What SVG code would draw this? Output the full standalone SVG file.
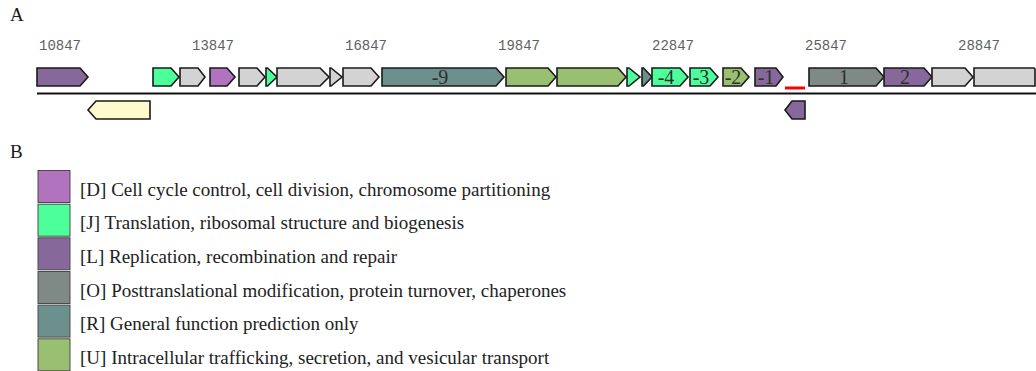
<svg xmlns="http://www.w3.org/2000/svg" width="1036" height="371" viewBox="0 0 1036 371">
<style>
.panel{font-family:"Liberation Serif","Times New Roman",serif;font-size:19px;fill:#1a1a1a}
.tick{font-family:"Liberation Mono","Courier New",monospace;font-size:14px;fill:#5f5f5f}
.g{stroke:#1a1a1a;stroke-width:1.6;stroke-linejoin:miter}
.lbl{font-family:"Liberation Serif","Times New Roman",serif;font-size:20px;fill:#2e2e2e;text-anchor:middle}
.leg{font-family:"Liberation Serif","Times New Roman",serif;font-size:19px;fill:#222}
.sw{stroke:#4a4a4a;stroke-width:1}
.D{fill:#b173bd}.J{fill:#4dff9b}.L{fill:#87689a}.O{fill:#7f8a86}.R{fill:#6c908e}.U{fill:#99c071}.N{fill:#d3d3d3}.Y{fill:#fffacd}
</style>
<rect width="1036" height="371" fill="#ffffff"/>
<text class="panel" x="10" y="21">A</text>
<text class="panel" x="10" y="158">B</text>
<g id="ticks">
<text class="tick" x="39" y="50">10847</text>
<text class="tick" x="192" y="50">13847</text>
<text class="tick" x="345" y="50">16847</text>
<text class="tick" x="498" y="50">19847</text>
<text class="tick" x="652" y="50">22847</text>
<text class="tick" x="805" y="50">25847</text>
<text class="tick" x="958" y="50">28847</text>
</g>
<g id="connectors">
<line x1="37" y1="93.5" x2="1036" y2="93.5" stroke="#111" stroke-width="2"/>
<line x1="785" y1="88" x2="805" y2="88" stroke="#ff0000" stroke-width="3"/>
</g>
<g id="gene1"><polygon class="g L" points="37,68 80,68 88,77 80,86 37,86"/></g>
<g id="gene2"><polygon class="g J" points="153,68 171,68 179,77 171,86 153,86"/></g>
<g id="gene3"><polygon class="g N" points="180,68 198,68 205,77 198,86 180,86"/></g>
<g id="gene4"><polygon class="g D" points="210,68 227,68 235,77 227,86 210,86"/></g>
<g id="gene5"><polygon class="g N" points="239,68 257,68 265,77 257,86 239,86"/></g>
<g id="gene6"><polygon class="g J" points="266,68 267.5,68 277,77 267.5,86 266,86"/></g>
<g id="gene7"><polygon class="g N" points="277,68 320,68 329,77 320,86 277,86"/></g>
<g id="gene8"><polygon class="g N" points="330,68 331,68 342,77 331,86 330,86"/></g>
<g id="gene9"><polygon class="g N" points="343,68 371,68 379,77 371,86 343,86"/></g>
<g id="gene10"><polygon class="g R" points="382,68 496,68 504,77 496,86 382,86"/><text class="lbl" x="440" y="84">-9</text></g>
<g id="gene11"><polygon class="g U" points="506,68 548,68 556,77 548,86 506,86"/></g>
<g id="gene12"><polygon class="g U" points="557,68 618,68 626,77 618,86 557,86"/></g>
<g id="gene13"><polygon class="g J" points="627,68 629,68 640,77 629,86 627,86"/></g>
<g id="gene14"><polygon class="g R" points="642,68 643.5,68 652,77 643.5,86 642,86"/></g>
<g id="gene15"><polygon class="g J" points="652,68 680,68 688,77 680,86 652,86"/><text class="lbl" x="666" y="84">-4</text></g>
<g id="gene16"><polygon class="g J" points="690,68 710,68 718,77 710,86 690,86"/><text class="lbl" x="701" y="84">-3</text></g>
<g id="gene17"><polygon class="g U" points="723,68 741,68 749,77 741,86 723,86"/><text class="lbl" x="733" y="84">-2</text></g>
<g id="gene18"><polygon class="g L" points="755,68 776,68 783,77 776,86 755,86"/><text class="lbl" x="766" y="84">-1</text></g>
<g id="gene19"><polygon class="g O" points="809,68 876,68 884,77 876,86 809,86"/><text class="lbl" x="844" y="84">1</text></g>
<g id="gene20"><polygon class="g L" points="884,68 924,68 932,77 924,86 884,86"/><text class="lbl" x="905" y="84">2</text></g>
<g id="gene21"><polygon class="g N" points="932,68 965,68 973,77 965,86 932,86"/></g>
<g id="gene22"><polygon class="g N" points="974,68 1034,68 1035,69 1035,86 974,86"/></g>
<g id="geneR1"><polygon class="g Y" points="150,101 96,101 88,110 96,119 150,119"/></g>
<g id="geneR2"><polygon class="g L" points="805,101 792,101 785,110 792,119 805,119"/></g>
<g id="legend">
<rect class="sw D" x="38" y="170.5" width="32" height="32"/>
<text class="leg" x="80" y="195.5">[D] Cell cycle control, cell division, chromosome partitioning</text>
<rect class="sw J" x="38" y="204.2" width="32" height="32"/>
<text class="leg" x="80" y="229.2">[J] Translation, ribosomal structure and biogenesis</text>
<rect class="sw L" x="38" y="237.8" width="32" height="32"/>
<text class="leg" x="80" y="262.8">[L] Replication, recombination and repair</text>
<rect class="sw O" x="38" y="271.5" width="32" height="32"/>
<text class="leg" x="80" y="296.5">[O] Posttranslational modification, protein turnover, chaperones</text>
<rect class="sw R" x="38" y="305.1" width="32" height="32"/>
<text class="leg" x="80" y="330.1">[R] General function prediction only</text>
<rect class="sw U" x="38" y="338.8" width="32" height="32"/>
<text class="leg" x="80" y="363.8">[U] Intracellular trafficking, secretion, and vesicular transport</text>
</g>
</svg>
